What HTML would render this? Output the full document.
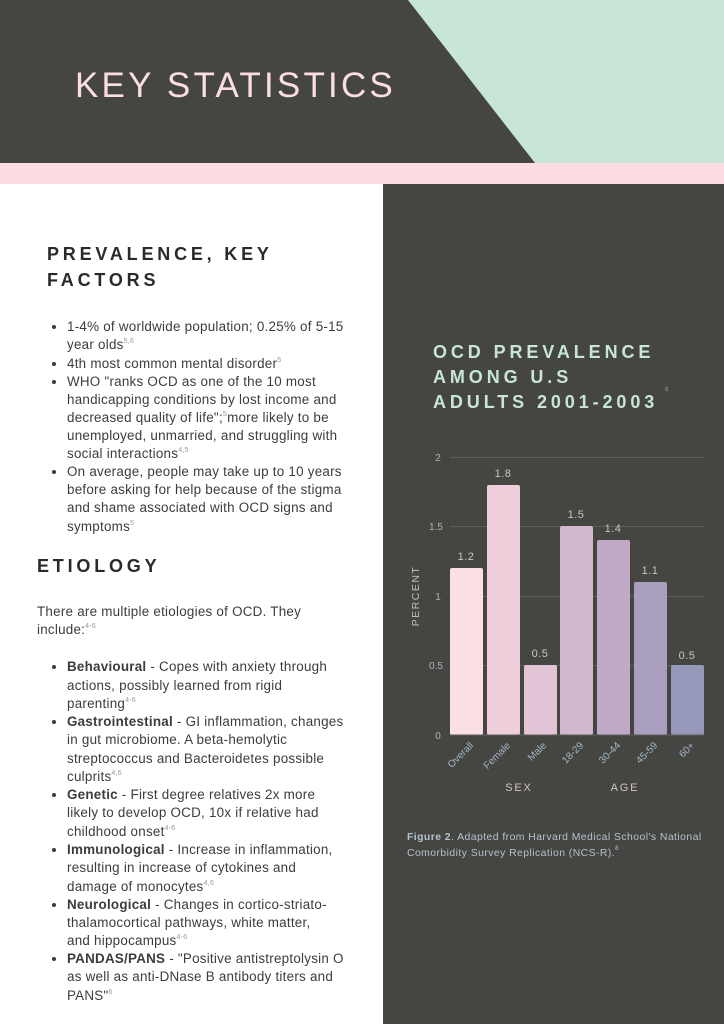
<!DOCTYPE html>
<html><head><meta charset="utf-8"><style>
*{margin:0;padding:0;box-sizing:border-box}
body{width:724px;height:1024px;position:relative;overflow:hidden;background:#fff;font-family:"Liberation Sans",sans-serif}
.l{position:absolute;left:67px;font-size:13.4px;letter-spacing:0.25px;line-height:18px;color:#3c3c3a;white-space:nowrap}
.b::before{content:"";position:absolute;left:-15px;top:7px;width:4px;height:4px;border-radius:50%;background:#3c3c3a}
sup{font-size:7px;color:#999;vertical-align:6px;line-height:0}
.h{position:absolute;left:47px;font-weight:bold;font-size:18px;letter-spacing:3.8px;color:#2a2a28}
</style></head><body>
<svg width="724" height="1024" style="position:absolute;left:0;top:0">
<rect x="0" y="0" width="724" height="163" fill="#454541"/>
<polygon points="408,0 724,0 724,163 535,163" fill="#c8e6d6"/>
<rect x="0" y="163" width="724" height="21" fill="#fcdde2"/>
<rect x="383" y="184" width="341" height="840" fill="#454541"/>
<g stroke="#5e5f5b" stroke-width="1">
<line x1="450" y1="457.5" x2="704" y2="457.5"/><line x1="450" y1="526.5" x2="704" y2="526.5"/>
<line x1="450" y1="596.5" x2="704" y2="596.5"/><line x1="450" y1="665.5" x2="704" y2="665.5"/>
</g>
<g>
<rect x="450" y="568" width="33" height="167" rx="2" fill="#fcdfe4"/>
<rect x="487" y="485" width="33" height="250" rx="2" fill="#efcfdb"/>
<rect x="524" y="665" width="33" height="70" rx="2" fill="#e2c4d6"/>
<rect x="560" y="526" width="33" height="209" rx="2" fill="#d3b7cf"/>
<rect x="597" y="540" width="33" height="195" rx="2" fill="#c0aac8"/>
<rect x="634" y="582" width="33" height="153" rx="2" fill="#ab9fc0"/>
<rect x="671" y="665" width="33" height="70" rx="2" fill="#9598b9"/>
</g>
<line x1="450" y1="735" x2="704" y2="735" stroke="#5e5f5b"/>
<g font-size="11" fill="#cfc4c8" text-anchor="middle" letter-spacing="0.5">
<text x="466" y="560">1.2</text><text x="503" y="477">1.8</text><text x="540" y="657">0.5</text>
<text x="576" y="518">1.5</text><text x="613" y="532">1.4</text><text x="650" y="574">1.1</text><text x="687" y="659">0.5</text>
</g>
<g font-size="10" fill="#aab3bb" text-anchor="middle">
<text x="438" y="461">2</text><text x="436" y="530">1.5</text><text x="438" y="600">1</text><text x="436" y="669">0.5</text><text x="438" y="739">0</text>
</g>
<text transform="translate(419,596) rotate(-90)" font-size="10.5" letter-spacing="1.5" fill="#c8bcc0" text-anchor="middle">PERCENT</text>
<g font-size="10" fill="#a3b6c6" text-anchor="end">
<text transform="translate(474,746) rotate(-45)">Overall</text>
<text transform="translate(511,746) rotate(-45)">Female</text>
<text transform="translate(547,746) rotate(-45)">Male</text>
<text transform="translate(584,746) rotate(-45)">18-29</text>
<text transform="translate(621,746) rotate(-45)">30-44</text>
<text transform="translate(658,746) rotate(-45)">45-59</text>
<text transform="translate(695,746) rotate(-45)">60+</text>
</g>
<g font-size="11" fill="#cfc4c8" letter-spacing="1.8" text-anchor="middle">
<text x="519" y="791">SEX</text><text x="625" y="791">AGE</text>
</g>
<g font-size="10.4" fill="#b5c3d0" letter-spacing="0.45">
<text x="407" y="840"><tspan font-weight="bold">Figure 2</tspan>. Adapted from Harvard Medical School's National</text>
<text x="407" y="856">Comorbidity Survey Replication (NCS-R).<tspan font-size="6" dy="-6">8</tspan></text>
</g>
<g font-size="18" font-weight="bold" fill="#c8e6d6" letter-spacing="3.9">
<text x="433" y="358">OCD PREVALENCE</text><text x="433" y="383">AMONG U.S</text><text x="433" y="408">ADULTS 2001-2003</text>
</g>
<text x="665" y="391" font-size="6" fill="#999">8</text>
<text x="75" y="97" font-size="35" fill="#fcdde2" letter-spacing="3.2">KEY STATISTICS</text>
</svg>
<div class="h" style="top:244px">PREVALENCE, KEY</div>
<div class="h" style="top:270px">FACTORS</div>
<div class="h" style="top:556px;left:37px">ETIOLOGY</div>
<div class="l b" style="top:318px">1-4% of worldwide population; 0.25% of 5-15</div>
<div class="l" style="top:336px">year olds<sup>5,6</sup></div>
<div class="l b" style="top:355px">4th most common mental disorder<sup>5</sup></div>
<div class="l b" style="top:373px">WHO "ranks OCD as one of the 10 most</div>
<div class="l" style="top:391px">handicapping conditions by lost income and</div>
<div class="l" style="top:409px">decreased quality of life";<sup>5</sup>more likely to be</div>
<div class="l" style="top:427px">unemployed, unmarried, and struggling with</div>
<div class="l" style="top:445px">social interactions<sup>4,5</sup></div>
<div class="l b" style="top:463px">On average, people may take up to 10 years</div>
<div class="l" style="top:481px">before asking for help because of the stigma</div>
<div class="l" style="top:499px">and shame associated with OCD signs and</div>
<div class="l" style="top:518px">symptoms<sup>5</sup></div>
<div class="l" style="top:603px;left:37px">There are multiple etiologies of OCD. They</div>
<div class="l" style="top:621px;left:37px">include:<sup>4-6</sup></div>
<div class="l b" style="top:658px"><b>Behavioural</b> - Copes with anxiety through</div>
<div class="l" style="top:677px">actions, possibly learned from rigid</div>
<div class="l" style="top:695px">parenting<sup>4-6</sup></div>
<div class="l b" style="top:713px"><b>Gastrointestinal</b> - GI inflammation, changes</div>
<div class="l" style="top:731px">in gut microbiome. A beta-hemolytic</div>
<div class="l" style="top:750px">streptococcus and Bacteroidetes possible</div>
<div class="l" style="top:768px">culprits<sup>4,6</sup></div>
<div class="l b" style="top:786px"><b>Genetic</b> - First degree relatives 2x more</div>
<div class="l" style="top:804px">likely to develop OCD, 10x if relative had</div>
<div class="l" style="top:823px">childhood onset<sup>4-6</sup></div>
<div class="l b" style="top:841px"><b>Immunological</b> - Increase in inflammation,</div>
<div class="l" style="top:859px">resulting in increase of cytokines and</div>
<div class="l" style="top:878px">damage of monocytes<sup>4,6</sup></div>
<div class="l b" style="top:896px"><b>Neurological</b> - Changes in cortico-striato-</div>
<div class="l" style="top:914px">thalamocortical pathways, white matter,</div>
<div class="l" style="top:932px">and hippocampus<sup>4-6</sup></div>
<div class="l b" style="top:950px"><b>PANDAS/PANS</b> - "Positive antistreptolysin O</div>
<div class="l" style="top:968px">as well as anti-DNase B antibody titers and</div>
<div class="l" style="top:987px">PANS"<sup>6</sup></div>
</body></html>
